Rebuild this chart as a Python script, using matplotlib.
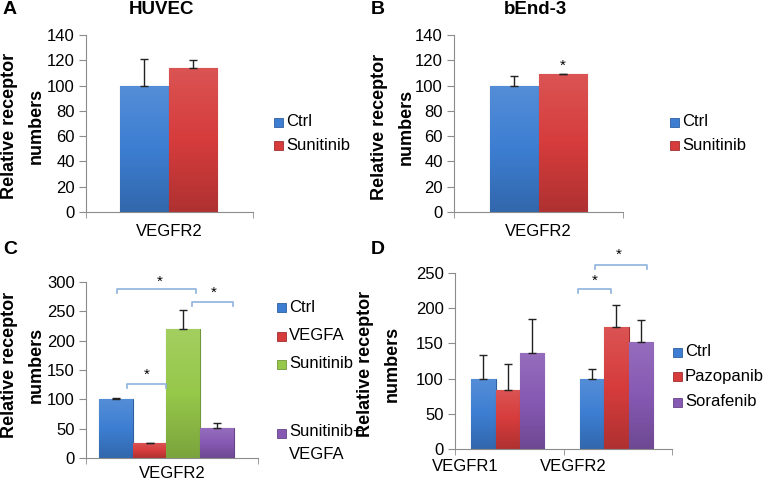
import matplotlib
matplotlib.use("Agg")
import matplotlib.pyplot as plt
import numpy as np
from matplotlib.colors import LinearSegmentedColormap, to_rgb
from matplotlib.patches import Rectangle

plt.rcParams["font.family"] = ["Liberation Sans", "DejaVu Sans"]
plt.rcParams["font.size"] = 12

W, H = 769, 484

# data
a_groups = ["Ctrl", "Sunitinib"]
a_vals = [100, 114]
a_errs = [21, 6]

b_groups = ["Ctrl", "Sunitinib"]
b_vals = [100, 109]
b_errs = [7.5, 0.5]

c_groups = ["Ctrl", "VEGFA", "Sunitinib", "Sunitinib+\nVEGFA"]
c_vals = [100, 25, 220, 51]
c_errs = [2, 1, 32, 9]

d_cats = ["VEGFR1", "VEGFR2"]
d_groups = ["Ctrl", "Pazopanib", "Sorafenib"]
d_vals = [[100, 100], [84, 174], [136, 152]]
d_errs = [[33, 13], [37, 31], [49, 31]]

BLUE = "#3d7ed2"
RED = "#d63c3c"
GREEN = "#96c84a"
PURPLE = "#8659b3"
BRACKET = "#8fb2de"
AXC = "#8c8c8c"


def shade(c, f):
    r, g, b = to_rgb(c)
    if f > 1:
        return tuple(x + (1 - x) * (f - 1) for x in (r, g, b))
    return (r * f, g * f, b * f)


def fx(x):
    return x / W


def fy(y):
    return 1 - y / H


def make_ax(l, t, r, b):
    return fig.add_axes([fx(l), fy(b), fx(r) - fx(l), fy(t) - fy(b)])


def gbar(ax, x, h, w, c, err):
    bar = ax.bar(x, h, w, color=c, edgecolor=shade(c, 0.75), lw=0.8, zorder=2)[0]
    cmap = LinearSegmentedColormap.from_list("g", [shade(c, 0.82), c, shade(c, 1.12)])
    grad = np.linspace(0, 1, 64).reshape(-1, 1)
    img = ax.imshow(grad, extent=[x - w / 2, x + w / 2, 0, h], origin="lower",
                    cmap=cmap, aspect="auto", zorder=2)
    img.set_clip_path(bar)
    ax.errorbar(x, h, yerr=[[0], [err]], fmt="none", ecolor="#222222",
                elinewidth=1.0, capsize=3, capthick=1.0, zorder=3)


def style(ax, ymax, step, ends):
    for s in ["top", "right"]:
        ax.spines[s].set_visible(False)
    ax.spines["left"].set_color(AXC)
    ax.spines["bottom"].set_color(AXC)
    ax.set_ylim(0, ymax)
    ax.set_yticks(np.arange(0, ymax + 1, step))
    ax.tick_params(axis="y", length=5, color=AXC, labelsize=12, pad=3)
    ax.set_xticks(ends, minor=True)
    ax.tick_params(axis="x", which="minor", length=4, color=AXC)
    ax.tick_params(axis="x", which="major", length=0, labelsize=12)


def legend(x, ys, labels, colors):
    for y, lab, c in zip(ys, labels, colors):
        fig.add_artist(Rectangle((fx(x), fy(y + 4.5)), fx(9), 9 / H,
                                 transform=fig.transFigure, facecolor=c,
                                 edgecolor=shade(c, 0.75), lw=0.6))
        if "\n" in lab:
            fig.text(fx(x + 12), fy(y - 9), lab, fontsize=12, va="top",
                     ha="left", linespacing=1.65)
        else:
            fig.text(fx(x + 12), fy(y), lab, fontsize=12, va="center", ha="left")


def bracket(ax, x0, x1, y, leg, sx, sy):
    ax.plot([x0, x0, x1, x1], [y - leg, y, y, y - leg], color=BRACKET, lw=1.2,
            clip_on=False, solid_joinstyle="round")
    ax.text(sx, sy, "*", ha="center", va="center", fontsize=11)


def ylab(x, y):
    fig.text(fx(x), fy(y), "Relative receptor\nnumbers", rotation=90, ha="center",
             va="center", fontsize=13, fontweight="bold", linespacing=1.75)


fig = plt.figure(figsize=(W / 100, H / 100), dpi=100)

# A
ax = make_ax(86, 35, 253, 212)
w = 0.29
for i, (v, e) in enumerate(zip(a_vals, a_errs)):
    gbar(ax, 0.495 + (i - 0.5) * w, v, w, [BLUE, RED][i], e)
ax.set_xlim(0, 1)
style(ax, 140, 20, [0, 1])
ax.set_xticks([0.5], ["VEGFR2"])
ax.tick_params(axis="x", which="major", pad=9)
legend(274, [122, 146], a_groups, [BLUE, RED])
ylab(23, 126)
fig.text(fx(162), fy(10), "HUVEC", ha="center", va="center", fontsize=13.5, fontweight="bold")
fig.text(fx(3), fy(10), "A", ha="left", va="center", fontsize=14, fontweight="bold")

# B
ax = make_ax(454, 35, 623, 212)
w = 0.288
for i, (v, e) in enumerate(zip(b_vals, b_errs)):
    gbar(ax, 0.5 + (i - 0.5) * w, v, w, [BLUE, RED][i], e)
ax.set_xlim(0, 1)
style(ax, 140, 20, [0, 1])
ax.set_xticks([0.5], ["VEGFR2"])
ax.tick_params(axis="x", which="major", pad=9)
ax.text(0.5 + 0.5 * w, b_vals[1] + 7, "*", ha="center", va="center", fontsize=11)
legend(670, [122, 146], b_groups, [BLUE, RED])
ylab(393, 127)
fig.text(fx(535), fy(10), "bEnd-3", ha="center", va="center", fontsize=13.5, fontweight="bold")
fig.text(fx(371), fy(10), "B", ha="left", va="center", fontsize=14, fontweight="bold")

# C
ax = make_ax(86, 282, 258, 458)
w = 0.196
cx = [0.174 + i * w for i in range(4)]
for i, (v, e) in enumerate(zip(c_vals, c_errs)):
    gbar(ax, cx[i], v, w, [BLUE, RED, GREEN, PURPLE][i], e)
ax.set_xlim(0, 1)
style(ax, 300, 50, [0, 1])
ax.set_xticks([0.5], ["VEGFR2"])
ax.tick_params(axis="x", which="major", pad=6)
bracket(ax, 0.18, 0.64, 288, 7, 0.43, 300)
bracket(ax, 0.616, 0.855, 266, 7, 0.74, 281)
bracket(ax, 0.238, 0.465, 126, 7, 0.355, 141)
legend(277, [307, 336, 364, 433], c_groups, [BLUE, RED, GREEN, PURPLE])
ylab(23, 365)
fig.text(fx(3), fy(249), "C", ha="left", va="center", fontsize=14, fontweight="bold")

# D
ax = make_ax(455, 273, 672, 449)
w = 0.225
for j in range(len(d_cats)):
    for i in range(len(d_groups)):
        gbar(ax, j + 0.487 + (i - 1) * w, d_vals[i][j], w,
             [BLUE, RED, PURPLE][i], d_errs[i][j])
ax.set_xlim(0, 2)
style(ax, 250, 50, [0, 1, 2])
ax.set_xticks([])
for j, cat in enumerate(d_cats):
    ax.text(j + 0.09, -0.1, cat, transform=ax.get_xaxis_transform(),
            ha="center", va="center", fontsize=12)
bracket(ax, 1.134, 1.438, 227, 5, 1.29, 239)
bracket(ax, 1.29, 1.77, 261, 5, 1.51, 276)
legend(673, [352, 376, 402], d_groups, [BLUE, RED, PURPLE])
ylab(379, 364)
fig.text(fx(371), fy(249), "D", ha="left", va="center", fontsize=14, fontweight="bold")

fig.savefig("out.png", dpi=100)
